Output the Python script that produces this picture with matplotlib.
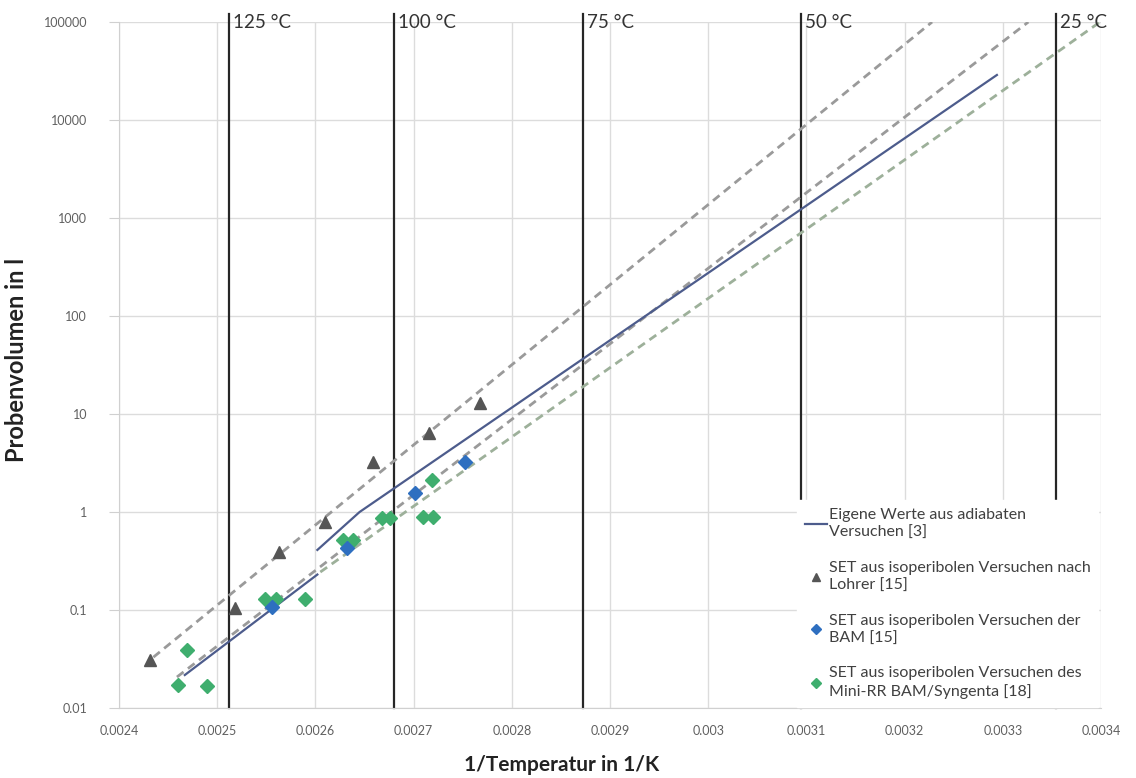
import numpy as np
import matplotlib.pyplot as plt
from matplotlib.lines import Line2D

plt.rcParams['font.family'] = ['Lato', 'DejaVu Sans']

# temperature guide lines (deg C)
temps_c = [125, 100, 75, 50, 25]

# own values from adiabatic tests (two segments)
own_x1 = [0.002467, 0.002602]
own_y1 = [0.0217, 0.23]
own_x2 = [0.002602, 0.002645, 0.003294]
own_y2 = [0.41, 1.0, 28800]

# dashed trend lines
upper_x = [0.002435, 0.003228]
upper_y = [0.033, 100000]
mid_x = [0.002459, 0.003326]
mid_y = [0.0207, 100000]
low_x = [0.002605, 0.003399]
low_y = [0.244, 100000]

# SET Lohrer
lohrer_x = [0.002432, 0.002518, 0.002563, 0.002610, 0.002659, 0.002716, 0.002768]
lohrer_y = [0.031, 0.105, 0.39, 0.79, 3.2, 6.4, 12.9]

# SET BAM
bam_x = [0.002556, 0.002632, 0.002701, 0.002752]
bam_y = [0.107, 0.43, 1.56, 3.24]

# SET Mini-RR BAM/Syngenta
mini_x = [0.002460, 0.002469, 0.002490, 0.002549, 0.002560, 0.002589, 0.002628,
          0.002638, 0.002668, 0.002676, 0.002710, 0.002720, 0.002719]
mini_y = [0.017, 0.039, 0.0168, 0.129, 0.13, 0.129, 0.52,
          0.52, 0.87, 0.87, 0.89, 0.89, 2.1]

x_ticks = [0.0024, 0.0025, 0.0026, 0.0027, 0.0028, 0.0029, 0.003, 0.0031, 0.0032, 0.0033, 0.0034]
x_labels = ['0.0024', '0.0025', '0.0026', '0.0027', '0.0028', '0.0029', '0.003',
            '0.0031', '0.0032', '0.0033', '0.0034']
y_ticks = [0.01, 0.1, 1, 10, 100, 1000, 10000, 100000]
y_labels = ['0.01', '0.1', '1', '10', '100', '1000', '10000', '100000']

labels = ['Eigene Werte aus adiabaten\nVersuchen [3]',
          'SET aus isoperibolen Versuchen nach\nLohrer [15]',
          'SET aus isoperibolen Versuchen der\nBAM [15]',
          'SET aus isoperibolen Versuchen des\nMini-RR BAM/Syngenta [18]']

c_line = '#4d5c8c'
c_tri = '#555555'
c_bam = '#2e6fc0'
c_mini = '#3fae6e'

fig = plt.figure(figsize=(11.36, 7.78), dpi=100)
ax = fig.add_axes([119 / 1136, 1 - 708 / 778, 982 / 1136, 686 / 778])

ax.set_yscale('log')
ax.set_xlim(0.0024, 0.0034)
ax.set_ylim(0.01, 100000)

ax.set_xticks(x_ticks)
ax.set_xticklabels(x_labels)
ax.set_yticks(y_ticks)
ax.set_yticklabels(y_labels)
ax.yaxis.set_minor_locator(plt.NullLocator())
ax.grid(True, color='#dcdcdc', lw=1)
ax.set_axisbelow(True)

for s in ['top', 'right']:
    ax.spines[s].set_visible(False)
for s in ['left', 'bottom']:
    ax.spines[s].set_color('#d0d0d0')

ax.tick_params(axis='y', length=7, color='#d0d0d0', pad=16, labelsize=9, labelcolor='#606060')
ax.tick_params(axis='x', length=0, pad=12, labelsize=9, labelcolor='#606060')

# temperature lines
for t in temps_c:
    xt = 1 / (t + 273.15)
    ax.axvline(xt, ymin=0, ymax=1.012, color='#262626', lw=1.6, clip_on=False, zorder=2)
    ax.text(xt + 0.000004, 100000, f'{t} °C', fontsize=13.5, color='#333333',
            ha='left', va='center', zorder=6)

# trend lines
ax.plot(upper_x, upper_y, color='#9a9a9a', lw=2, ls=(0, (3, 2)), zorder=3)
ax.plot(mid_x, mid_y, color='#9a9a9a', lw=2, ls=(0, (3, 2)), zorder=3)
ax.plot(low_x, low_y, color='#9db09a', lw=2, ls=(0, (3, 2)), zorder=3)

ax.plot(own_x1, own_y1, color=c_line, lw=1.6, zorder=4)
ax.plot(own_x2, own_y2, color=c_line, lw=1.6, zorder=4)

ax.plot(lohrer_x, lohrer_y, ls='none', marker='^', ms=9, color=c_tri, zorder=5)
ax.plot(mini_x, mini_y, ls='none', marker='D', ms=7, color=c_mini, zorder=5)
ax.plot(bam_x, bam_y, ls='none', marker='D', ms=7, color=c_bam, zorder=5)

ax.set_xlabel('1/Temperatur in 1/K', fontsize=15, fontweight='bold', color='#222222')
ax.set_ylabel('Probenvolumen in l', fontsize=17, fontweight='bold', color='#222222')
ax.xaxis.set_label_coords(0.451, -0.068)
ax.yaxis.set_label_coords(-0.093, 0.507)

handles = [Line2D([], [], color=c_line, lw=1.6),
           Line2D([], [], ls='none', marker='^', ms=6, color=c_tri),
           Line2D([], [], ls='none', marker='D', ms=5, color=c_bam),
           Line2D([], [], ls='none', marker='D', ms=5, color=c_mini)]
leg = ax.legend(handles, labels, loc='upper left', bbox_to_anchor=(0.69, 0.303),
                frameon=True, fontsize=11.5, labelspacing=1.3, handlelength=1.4,
                handletextpad=0.1, borderpad=0.5, borderaxespad=0, fancybox=False)
leg.get_frame().set_edgecolor('white')
leg.get_frame().set_facecolor('white')
leg.get_frame().set_alpha(1)
leg.set_zorder(10)
for txt in leg.get_texts():
    txt.set_color('#404040')
    txt.set_linespacing(1.35)

fig.savefig('out.png', dpi=100)
